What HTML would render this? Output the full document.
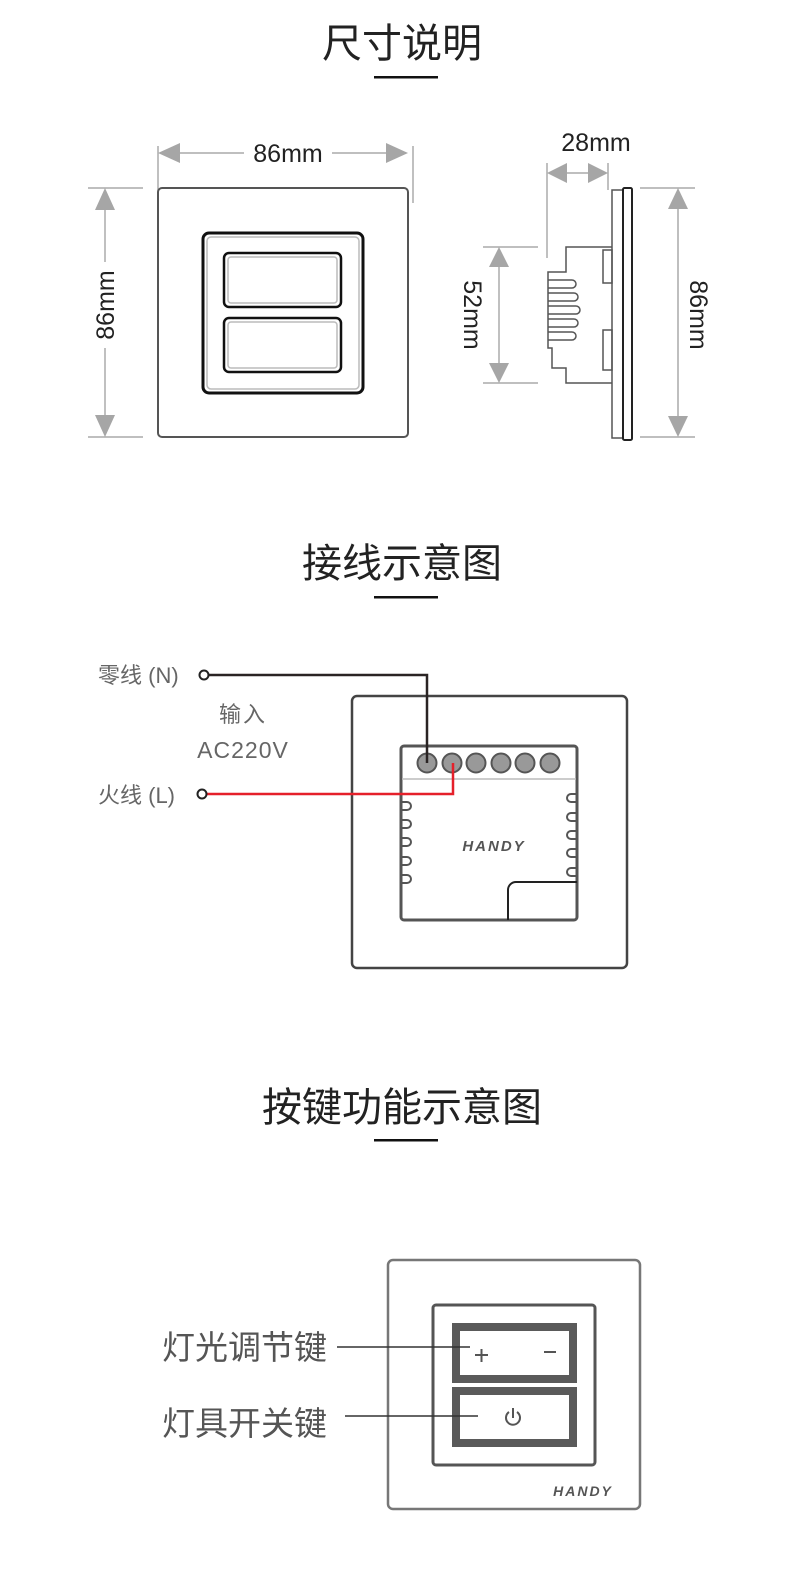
<!DOCTYPE html>
<html><head><meta charset="utf-8"><style>
html,body{margin:0;padding:0;background:#fff;}
svg{display:block;}
.t{font-family:"Liberation Sans","Noto Sans CJK SC",sans-serif;}
</style></head><body>
<svg width="800" height="1588" viewBox="0 0 800 1588" xmlns="http://www.w3.org/2000/svg">
<g class="t" fill="#222" font-size="40" text-anchor="middle">
<text x="402" y="57">尺寸说明</text>
<text x="402" y="577">接线示意图</text>
<text x="402" y="1121">按键功能示意图</text>
</g>
<g fill="#111">
<rect x="374" y="76" width="64" height="2.5"/>
<rect x="374" y="596" width="64" height="2.5"/>
<rect x="374" y="1139" width="64" height="2.5"/>
</g>

<!-- Section 1 front -->
<g fill="none" stroke="#aaa" stroke-width="1.5">
<line x1="158" y1="146" x2="158" y2="205"/>
<line x1="413" y1="146" x2="413" y2="203"/>
<line x1="88" y1="188" x2="143" y2="188"/>
<line x1="88" y1="437" x2="143" y2="437"/>
<line x1="172" y1="153" x2="244" y2="153"/>
<line x1="332" y1="153" x2="394" y2="153"/>
<line x1="105" y1="202" x2="105" y2="262"/>
<line x1="105" y1="348" x2="105" y2="423"/>
</g>
<g fill="#a6a6a6">
<polygon points="158,153 180,143 180,163"/>
<polygon points="408,153 386,143 386,163"/>
<polygon points="105,188 95,210 115,210"/>
<polygon points="105,437 95,415 115,415"/>
</g>
<g class="t" fill="#222" font-size="25" text-anchor="middle">
<text x="288" y="162">86mm</text>
<text transform="translate(114,305) rotate(-90)">86mm</text>
</g>
<rect x="158" y="188" width="250" height="249" rx="4" fill="none" stroke="#555" stroke-width="2"/>
<rect x="203" y="233" width="160" height="160" rx="6" fill="none" stroke="#111" stroke-width="3"/>
<rect x="207" y="237" width="152" height="152" rx="4" fill="none" stroke="#bbb" stroke-width="1.5"/>
<rect x="224" y="253" width="117" height="54" rx="5" fill="none" stroke="#111" stroke-width="2.5"/>
<rect x="228" y="257" width="109" height="46" rx="3" fill="none" stroke="#bbb" stroke-width="1.5"/>
<rect x="224" y="318" width="117" height="54" rx="5" fill="none" stroke="#111" stroke-width="2.5"/>
<rect x="228" y="322" width="109" height="46" rx="3" fill="none" stroke="#bbb" stroke-width="1.5"/>

<!-- Section 1 side -->
<g fill="none" stroke="#aaa" stroke-width="1.5">
<line x1="547" y1="163" x2="547" y2="258"/>
<line x1="608" y1="163" x2="608" y2="190"/>
<line x1="483" y1="247" x2="538" y2="247"/>
<line x1="483" y1="383" x2="538" y2="383"/>
<line x1="499" y1="262" x2="499" y2="368"/>
<line x1="640" y1="188" x2="695" y2="188"/>
<line x1="640" y1="437" x2="695" y2="437"/>
<line x1="678" y1="205" x2="678" y2="420"/>
<line x1="560" y1="173" x2="596" y2="173"/>
</g>
<g fill="#a6a6a6">
<polygon points="547,173 567,163 567,183"/>
<polygon points="608,173 588,163 588,183"/>
<polygon points="499,247 489,267 509,267"/>
<polygon points="499,383 489,363 509,363"/>
<polygon points="678,188 668,209 688,209"/>
<polygon points="678,437 668,416 688,416"/>
</g>
<g class="t" fill="#222" font-size="25" text-anchor="middle">
<text x="596" y="151">28mm</text>
<text transform="translate(464,315) rotate(90)">52mm</text>
<text transform="translate(690,315) rotate(90)">86mm</text>
</g>
<g fill="none" stroke="#555" stroke-width="1.5">
<rect x="612" y="190" width="11" height="248"/>
<rect x="623" y="188" width="9" height="252" rx="1.5" stroke="#222" stroke-width="2"/>
<path d="M612,247 H566 V272 H548 V348 H552 V368 H566 V383 H612"/>
<rect x="603" y="250" width="9" height="33"/>
<rect x="603" y="330" width="9" height="40"/>
<path d="M548,280 H572 a4,4 0 0 1 0,8 H548 M548,293 H574 a4,4 0 0 1 0,8 H548 M548,306 H576 a4,4 0 0 1 0,8 H548 M548,319 H574 a4,4 0 0 1 0,8 H548 M548,332 H572 a4,4 0 0 1 0,8 H548"/>
</g>

<!-- Section 2 -->
<g class="t" fill="#666" font-size="22">
<text x="98" y="683">零线 (N)</text>
<text x="98" y="803">火线 (L)</text>
<text x="243" y="722" text-anchor="middle" letter-spacing="2">输入</text>
<text x="243" y="758" text-anchor="middle" font-size="23" letter-spacing="1">AC220V</text>
</g>
<rect x="352" y="696" width="275" height="272" rx="5" fill="none" stroke="#444" stroke-width="2.5"/>
<rect x="401" y="746" width="176" height="174" rx="3" fill="none" stroke="#555" stroke-width="3"/>
<line x1="402" y1="779" x2="576" y2="779" stroke="#bbb" stroke-width="1.5"/>
<g fill="#999" stroke="#555" stroke-width="2">
<circle cx="427" cy="763" r="9.5"/><circle cx="452" cy="763" r="9.5"/><circle cx="476" cy="763" r="9.5"/>
<circle cx="501" cy="763" r="9.5"/><circle cx="525" cy="763" r="9.5"/><circle cx="550" cy="763" r="9.5"/>
</g>
<g fill="none" stroke="#555" stroke-width="2">
<path d="M401,802 h6 a4,4 0 0 1 0,8 h-6 M401,820 h6 a4,4 0 0 1 0,8 h-6 M401,838 h6 a4,4 0 0 1 0,8 h-6 M401,857 h6 a4,4 0 0 1 0,8 h-6 M401,875 h6 a4,4 0 0 1 0,8 h-6"/>
<path d="M577,794 h-6 a4,4 0 0 0 0,8 h6 M577,813 h-6 a4,4 0 0 0 0,8 h6 M577,831 h-6 a4,4 0 0 0 0,8 h6 M577,849 h-6 a4,4 0 0 0 0,8 h6 M577,868 h-6 a4,4 0 0 0 0,8 h6"/>
</g>
<path d="M508,920 V890 a8,8 0 0 1 8,-8 H577" fill="none" stroke="#222" stroke-width="2"/>
<text x="494" y="851" class="t" font-size="15" font-weight="bold" font-style="italic" fill="#555" text-anchor="middle" letter-spacing="2">HANDY</text>
<path d="M208,675 H427 V763" fill="none" stroke="#2a2424" stroke-width="2.5"/>
<path d="M206,794 H453 V763" fill="none" stroke="#e5202a" stroke-width="2.5"/>
<circle cx="204" cy="675" r="4.5" fill="#fff" stroke="#222" stroke-width="2"/>
<circle cx="202" cy="794" r="4.5" fill="#fff" stroke="#222" stroke-width="2"/>

<!-- Section 3 -->
<rect x="388" y="1260" width="252" height="249" rx="5" fill="none" stroke="#777" stroke-width="2.5"/>
<rect x="433" y="1305" width="162" height="160" rx="3" fill="none" stroke="#555" stroke-width="3"/>
<rect x="456" y="1327" width="117" height="52" fill="none" stroke="#5a5a5a" stroke-width="8"/>
<rect x="456" y="1391" width="117" height="52" fill="none" stroke="#5a5a5a" stroke-width="8"/>
<g stroke="#555" stroke-width="2" fill="none">
<line x1="475" y1="1355" x2="488" y2="1355"/><line x1="481.5" y1="1349" x2="481.5" y2="1362"/>
<line x1="544" y1="1352" x2="556" y2="1352"/>
<path d="M509,1412 a7,7 0 1 0 8,0"/><line x1="513" y1="1408" x2="513" y2="1418"/>
</g>
<text x="583" y="1496" class="t" font-size="14" font-weight="bold" font-style="italic" fill="#555" text-anchor="middle" letter-spacing="2">HANDY</text>
<g class="t" fill="#555" font-size="33">
<text x="162" y="1359">灯光调节键</text>
<text x="162" y="1435">灯具开关键</text>
</g>
<line x1="337" y1="1347" x2="470" y2="1347" stroke="#333" stroke-width="1.5"/>
<line x1="345" y1="1416" x2="478" y2="1416" stroke="#333" stroke-width="1.5"/>
</svg>
</body></html>
